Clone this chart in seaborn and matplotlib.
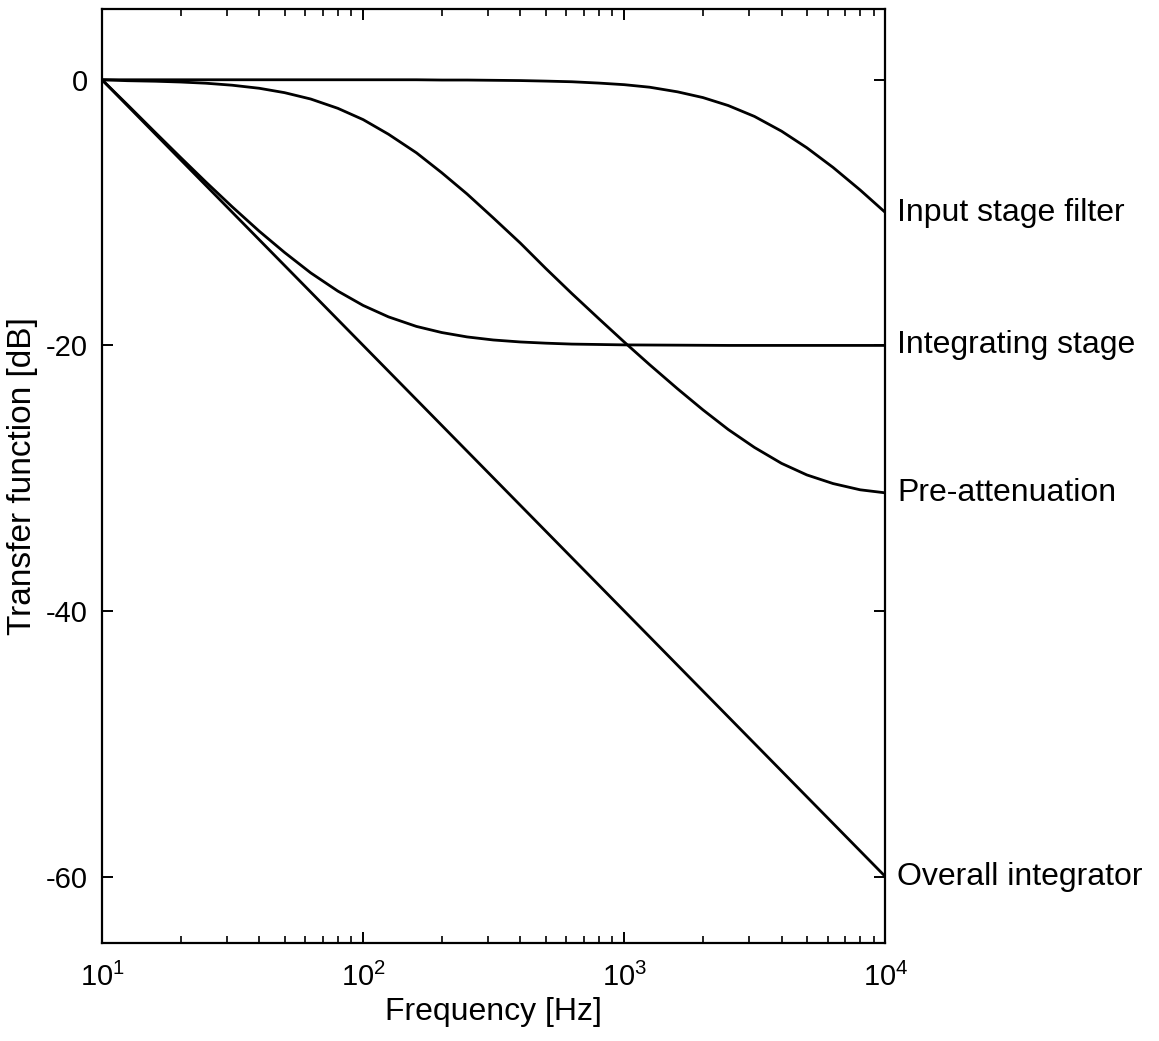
import matplotlib
matplotlib.use("Agg")
import matplotlib.pyplot as plt
import matplotlib.ticker as mticker
import numpy as np
import pandas as pd
import seaborn as sns

freq = [10, 12.5, 16, 20, 25, 31.5, 40, 50, 63, 80, 100, 125, 160, 200, 250, 315,
        400, 500, 630, 800, 1000, 1250, 1600, 2000, 2500, 3150, 4000, 5000, 6300, 8000, 10000]

# transfer functions [dB]
input_stage = [0.0, 0.0, 0.0, 0.0, 0.0, 0.0, 0.0, 0.0, 0.0, 0.0, 0.0, 0.0, 0.0, -0.02, -0.02, -0.04,
               -0.06, -0.1, -0.15, -0.25, -0.37, -0.56, -0.91, -1.34, -1.94, -2.76, -3.87, -5.12,
               -6.6, -8.3, -10.0]
integrating = [0.0, -1.87, -3.97, -5.85, -7.7, -9.56, -11.4, -13.0, -14.54, -15.91, -16.99,
               -17.85, -18.57, -19.03, -19.36, -19.59, -19.74, -19.83, -19.9, -19.93, -19.96,
               -19.97, -19.98, -19.99, -20.0, -20.0, -20.0, -20.0, -20.0, -20.0, -20.0]
pre_atten = [0.0, -0.07, -0.11, -0.17, -0.26, -0.41, -0.64, -0.97, -1.45, -2.15, -3.0, -4.1,
             -5.5, -7.0, -8.6, -10.4, -12.3, -14.2, -16.1, -18.0, -19.75, -21.45, -23.27, -24.85,
             -26.33, -27.68, -28.88, -29.75, -30.4, -30.87, -31.1]
overall_freq = [10, 100, 1000, 10000]
overall = [0, -20, -40, -60]

labels = ["Input stage filter", "Integrating stage", "Pre-attenuation", "Overall integrator"]

df = pd.concat([
    pd.DataFrame({"f": freq, "dB": input_stage, "curve": labels[0]}),
    pd.DataFrame({"f": freq, "dB": integrating, "curve": labels[1]}),
    pd.DataFrame({"f": freq, "dB": pre_atten, "curve": labels[2]}),
    pd.DataFrame({"f": overall_freq, "dB": overall, "curve": labels[3]}),
], ignore_index=True)

sns.set_style("ticks")
plt.rcParams['font.family'] = ['Liberation Sans', 'DejaVu Sans']
plt.rcParams['text.color'] = 'black'
plt.rcParams['axes.labelcolor'] = 'black'
plt.rcParams['xtick.color'] = 'black'
plt.rcParams['ytick.color'] = 'black'

fig = plt.figure(figsize=(11.59, 10.41), dpi=100)
ax = fig.add_axes([0.088, 0.094, 0.676, 0.897])

sns.lineplot(data=df, x="f", y="dB", hue="curve", palette=["black"] * 4,
             legend=False, linewidth=2.0, ax=ax, sort=False)

ax.set_xscale("log")
ax.set_xlim(10, 1e4)
ax.set_ylim(-65, 5.3)
ax.set_yticks([0, -20, -40, -60])
ax.yaxis.set_major_formatter(mticker.FuncFormatter(lambda v, p: f"{int(v)}"))
ax.xaxis.set_minor_locator(mticker.LogLocator(base=10, subs=np.arange(2, 10)))

for s in ax.spines.values():
    s.set_linewidth(1.6)
    s.set_color("black")

ax.tick_params(which="both", direction="in", top=True, right=True, color="black")
ax.tick_params(which="major", length=8, width=1.4)
ax.tick_params(which="minor", length=5, width=1.2)
ax.tick_params(axis="x", which="major", labelsize=21, pad=14)
ax.tick_params(axis="y", which="major", labelsize=21, pad=10)

ax.set_xlabel("Frequency [Hz]", fontsize=23, labelpad=4)
ax.set_ylabel("Transfer function [dB]", fontsize=24, labelpad=6)

# curve names at the right-hand end of each line
ends = [input_stage[-1], integrating[-1], pre_atten[-1], overall[-1]]
for name, val in zip(labels, ends):
    ax.annotate(name, xy=(1e4, val), xytext=(12, 0), textcoords="offset pixels",
                va="center", ha="left", fontsize=23, annotation_clip=False)

fig.savefig("out.png", dpi=100, facecolor="white")
